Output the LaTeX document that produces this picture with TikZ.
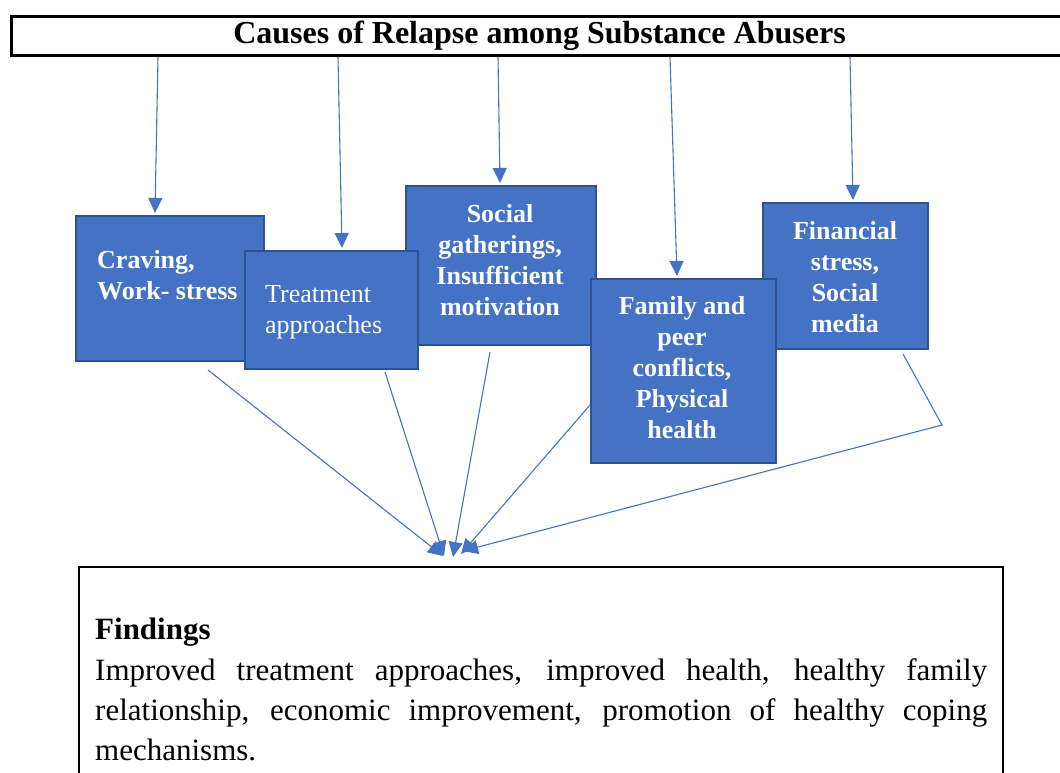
\documentclass[tikz,border=0pt]{standalone}
\usepackage{fontspec}
\setmainfont{Liberation Serif}
\usetikzlibrary{arrows.meta,calc}
\definecolor{boxblue}{HTML}{4472C4}
\definecolor{boxedge}{HTML}{2F528F}
\begin{document}
\begin{tikzpicture}[x=1pt,y=-1pt,
  cause/.style={draw=boxedge,line width=2pt,fill=boxblue,inner sep=0pt,anchor=north west},
  ctext/.style={text=white,inner sep=0pt,font=\fontsize{26}{31}\selectfont\bfseries,align=center},
  arr/.style={draw=boxblue,line width=1.1pt,-{Triangle[length=15pt,width=14pt]}},
  plainbox/.style={draw=black,inner sep=0pt,anchor=north west}
]
\useasboundingbox (0,0) rectangle (1060,773);
\begin{scope}
\clip (0,0) rectangle (1060,773);
% title
\node[plainbox,line width=3pt,minimum width=1056pt,minimum height=39pt,
      font=\fontsize{32}{38}\selectfont\bfseries] (title) at (10,15)
      {Causes of Relapse among Substance Abusers};
% cause boxes
\node[cause,minimum width=188pt,minimum height=145pt] (b1) at (75,215) {};
\node[cause,minimum width=190pt,minimum height=159pt] (b3) at (405,185) {};
\node[cause,minimum width=165pt,minimum height=146pt] (b5) at (762,202) {};
\node[cause,minimum width=173pt,minimum height=118pt] (b2) at (244,250) {};
\node[cause,minimum width=185pt,minimum height=184pt] (b4) at (590,278) {};
% box texts
\node[ctext,align=left,anchor=west] (t1) at (97,275) {Craving,\\Work- stress};
\node[ctext,align=left,anchor=west,font=\fontsize{26}{31}\selectfont] (t2) at (265,312) {Treatment\\approaches};
\node[ctext] (t3) at (500,260) {Social\\gatherings,\\Insufficient\\motivation};
\node[ctext] (t4) at (682,368) {Family and\\peer\\conflicts,\\Physical\\health};
\node[ctext] (t5) at (845,277) {Financial\\stress,\\Social\\media};
% findings box
\node[plainbox,line width=2pt,minimum width=924pt,minimum height=240pt] (fd) at (78,566) {};
\node[inner sep=0pt,anchor=base west,align=left,font=\fontsize{31}{40}\selectfont] (ft) at (95,760)
  {\textbf{Findings}\\[1pt]
   \makebox[892pt][s]{Improved treatment approaches, improved health, healthy family}\\
   \makebox[892pt][s]{relationship, economic improvement, promotion of healthy coping}\\
   mechanisms.};
% arrows from title
\draw[arr] ([xshift=148pt]title.south west) -- ([xshift=80pt,yshift=2pt]b1.north west);
\draw[arr] ([xshift=328pt]title.south west) -- ([xshift=98pt,yshift=2pt]b2.north west);
\draw[arr] ([xshift=488pt]title.south west) -- ([xshift=95pt,yshift=2pt]b3.north west);
\draw[arr] ([xshift=660pt]title.south west) -- ([xshift=87pt,yshift=2pt]b4.north west);
\draw[arr] ([xshift=840pt]title.south west) -- ([xshift=91pt,yshift=2pt]b5.north west);
% arrows to findings
\coordinate (e1) at (443,556);
\coordinate (e2) at (444,556);
\coordinate (e3) at (453,557);
\coordinate (e4) at (461,554);
\coordinate (e5) at (463,551);
\coordinate (k5) at (942,425);
\draw[arr] ([xshift=133pt,yshift=-8pt]b1.south west) -- (e1);
\draw[arr] ([xshift=141pt,yshift=-2pt]b2.south west) -- (e2);
\draw[arr] ([xshift=85pt,yshift=-6pt]b3.south west) -- (e3);
\draw[arr] ([yshift=-127pt]b4.north west) -- (e4);
\draw[arr] ([xshift=141pt,yshift=-4pt]b5.south west) -- (k5) -- (e5);
\end{scope}
\end{tikzpicture}
\end{document}
